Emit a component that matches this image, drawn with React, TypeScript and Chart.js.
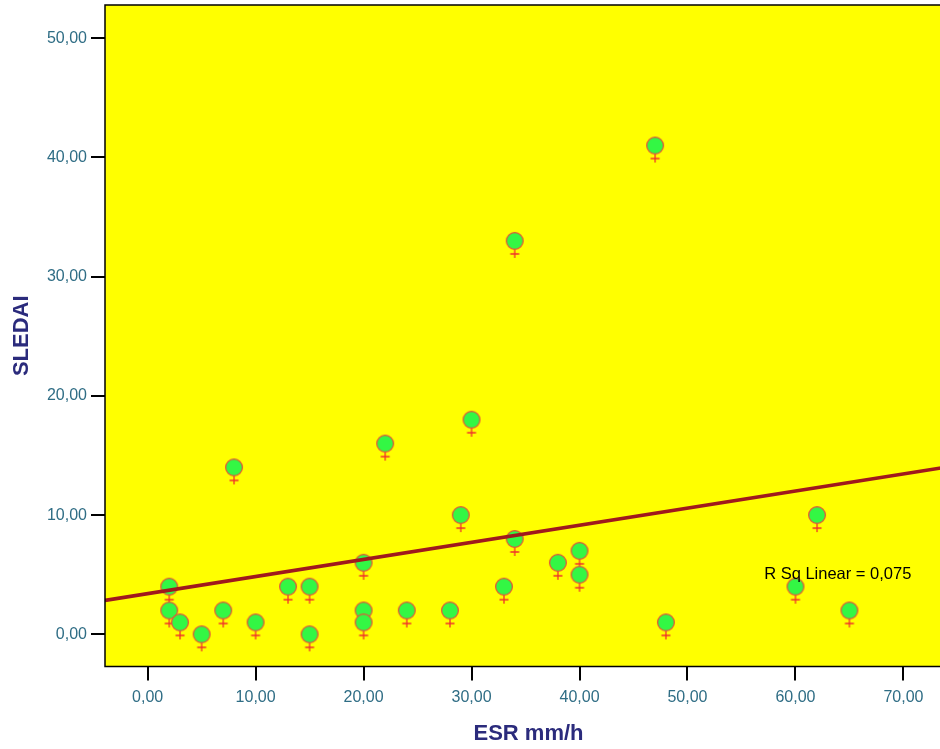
import { useEffect, useRef } from "react";
import { Chart, registerables } from "chart.js";

Chart.register(...registerables);

// ESR (mm/h) against SLEDAI score, one entry per patient
const esr = [2, 2, 3, 5, 7, 8, 10, 13, 15, 15, 20, 20, 20, 22, 24, 28, 29, 30, 33, 34, 34, 38, 40, 40, 47, 48, 60, 62, 65];
const sledai = [4, 2, 1, 0, 2, 14, 1, 4, 4, 0, 6, 2, 1, 16, 2, 2, 10, 18, 4, 33, 8, 6, 7, 5, 41, 1, 4, 10, 2];

const xTicks = [0, 10, 20, 30, 40, 50, 60, 70];
const yTicks = [0, 10, 20, 30, 40, 50];

const xTitle = "ESR mm/h";
const yTitle = "SLEDAI";
const rSqLabel = "R Sq Linear = 0,075";

const X_MIN = -3.95;
const X_MAX = 74.5;
const Y_MIN = -2.7;
const Y_MAX = 52.79;

const FONT = '"Liberation Sans", Arial, sans-serif';
const TICK_COLOR = "#2f6d85";
const TITLE_COLOR = "#2b2b7c";

// ordinary least-squares fit of SLEDAI on ESR
function linearFit(xs: number[], ys: number[]) {
  const n = xs.length;
  const mx = xs.reduce((s, v) => s + v, 0) / n;
  const my = ys.reduce((s, v) => s + v, 0) / n;
  let sxy = 0;
  let sxx = 0;
  for (let i = 0; i < n; i++) {
    sxy += (xs[i] - mx) * (ys[i] - my);
    sxx += (xs[i] - mx) * (xs[i] - mx);
  }
  const slope = sxy / sxx;
  return { slope, intercept: my - slope * mx };
}

// circle-and-cross marker, centred on the circle
function makeMarker(): HTMLCanvasElement {
  const size = 40;
  const c = document.createElement("canvas");
  c.width = size;
  c.height = size;
  const g = c.getContext("2d")!;
  const cx = size / 2;
  const cy = size / 2;
  const r = 8.4;
  g.strokeStyle = "#f0302c";
  g.lineWidth = 1.3;
  g.beginPath();
  g.moveTo(cx, cy + r);
  g.lineTo(cx, cy + 17);
  g.moveTo(cx - 4.5, cy + 13);
  g.lineTo(cx + 4.5, cy + 13);
  g.stroke();
  g.beginPath();
  g.arc(cx, cy, r, 0, Math.PI * 2);
  g.fillStyle = "#33f744";
  g.fill();
  g.strokeStyle = "#e8503c";
  g.lineWidth = 1.2;
  g.stroke();
  return c;
}

const fmt = (v: number) => v.toFixed(2).replace(".", ",");

const plotFrame = {
  id: "plotFrame",
  beforeDraw(chart: Chart) {
    const { ctx, chartArea: a } = chart;
    ctx.save();
    ctx.fillStyle = "#ffff00";
    ctx.fillRect(a.left, a.top, a.right - a.left, a.bottom - a.top);
    ctx.restore();
  },
  afterDraw(chart: Chart) {
    const { ctx, chartArea: a } = chart;
    ctx.save();
    ctx.strokeStyle = "#000";
    ctx.lineWidth = 1.5;
    ctx.strokeRect(a.left, a.top, a.right - a.left, a.bottom - a.top);
    ctx.restore();
  },
};

const fitLabel = {
  id: "fitLabel",
  afterDatasetsDraw(chart: Chart) {
    const { ctx } = chart;
    const xs = chart.scales.x;
    const ys = chart.scales.y;
    ctx.save();
    ctx.font = `16.5px ${FONT}`;
    ctx.fillStyle = "#000";
    ctx.textAlign = "left";
    ctx.textBaseline = "middle";
    ctx.fillText(rSqLabel, xs.getPixelForValue(57.1), ys.getPixelForValue(5.06));
    ctx.restore();
  },
};

export default function App() {
  const ref = useRef<HTMLCanvasElement>(null);

  useEffect(() => {
    if (!ref.current) return;
    const { slope, intercept } = linearFit(esr, sledai);
    const points = esr.map((x, i) => ({ x, y: sledai[i] }));
    const fitLine = [
      { x: X_MIN, y: intercept + slope * X_MIN },
      { x: X_MAX, y: intercept + slope * X_MAX },
    ];
    const marker = makeMarker();

    const chart = new Chart(ref.current, {
      type: "scatter",
      data: {
        datasets: [
          {
            type: "line",
            data: fitLine,
            borderColor: "#a0191d",
            borderWidth: 3.6,
            pointRadius: 0,
            fill: false,
          },
          {
            data: points,
            pointStyle: marker,
            pointRadius: 9,
          },
        ],
      },
      options: {
        animation: false,
        responsive: false,
        devicePixelRatio: 1,
        layout: { autoPadding: false, padding: { top: 5, left: 0, right: 0, bottom: 0 } },
        plugins: {
          legend: { display: false },
          tooltip: { enabled: false },
        },
        scales: {
          x: {
            type: "linear",
            min: X_MIN,
            max: X_MAX,
            afterBuildTicks: (s: any) => {
              s.ticks = xTicks.map((value) => ({ value }));
            },
            afterFit: (s: any) => {
              s.height = 82.5;
              s.paddingLeft = 0;
              s.paddingRight = 0;
            },
            ticks: {
              includeBounds: false,
              callback: (v: any) => fmt(Number(v)),
              color: TICK_COLOR,
              font: { family: FONT, size: 16 },
              padding: 7,
              maxRotation: 0,
            },
            grid: {
              drawOnChartArea: false,
              drawTicks: true,
              tickLength: 14,
              color: "#000",
              lineWidth: 2,
            },
            border: { display: false },
            title: {
              display: true,
              text: xTitle,
              color: TITLE_COLOR,
              font: { family: FONT, size: 22, weight: "bold", lineHeight: 1 },
              padding: { top: 0, bottom: 4 },
            },
          },
          y: {
            type: "linear",
            min: Y_MIN,
            max: Y_MAX,
            afterBuildTicks: (s: any) => {
              s.ticks = yTicks.map((value) => ({ value }));
            },
            afterFit: (s: any) => {
              s.width = 105;
              s.paddingTop = 0;
              s.paddingBottom = 0;
            },
            ticks: {
              includeBounds: false,
              callback: (v: any) => fmt(Number(v)),
              color: TICK_COLOR,
              font: { family: FONT, size: 16 },
              padding: 4,
            },
            grid: {
              drawOnChartArea: false,
              drawTicks: true,
              tickLength: 14,
              color: "#000",
              lineWidth: 2,
            },
            border: { display: false },
            title: {
              display: true,
              text: yTitle,
              color: TITLE_COLOR,
              font: { family: FONT, size: 22, weight: "bold", lineHeight: 1 },
              padding: { top: 10.7, bottom: 0 },
            },
          },
        },
      },
      plugins: [plotFrame, fitLabel],
    });
    return () => chart.destroy();
  }, []);

  return (
    <div
      style={{
        position: "fixed",
        left: 0,
        top: 0,
        width: 940,
        height: 749,
        overflow: "hidden",
        background: "#fff",
      }}
    >
      <div style={{ width: 952, height: 749 }}>
        <canvas ref={ref} width={952} height={749} style={{ display: "block", width: 952, height: 749 }} />
      </div>
    </div>
  );
}
